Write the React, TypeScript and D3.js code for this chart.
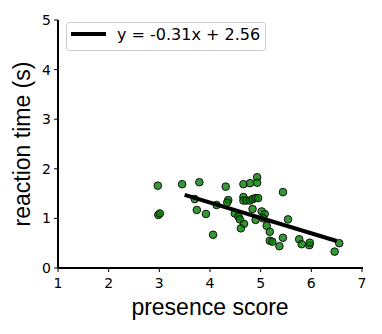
import React from "react";
import * as d3 from "d3";

// presence score / reaction time pairs
const presence = [
  2.97, 3.45, 3.79, 4.31, 4.66, 4.79, 4.93, 4.93, 2.98, 3.01,
  3.70, 3.74, 3.92, 4.06, 4.13, 4.36, 4.34, 4.66, 4.66, 4.72,
  4.79, 4.84, 4.90, 4.95, 4.49, 4.56, 4.59, 4.67, 4.61, 4.84,
  4.90, 5.44, 5.02, 5.08, 5.05, 5.12, 5.18, 5.54, 5.18, 5.23,
  5.37, 5.44, 5.76, 5.81, 5.96, 5.97, 6.55, 6.46,
];
const reaction = [
  1.66, 1.69, 1.73, 1.64, 1.69, 1.71, 1.83, 1.72, 1.07, 1.1,
  1.39, 1.17, 1.09, 0.67, 1.27, 1.37, 1.32, 1.43, 1.36, 1.36,
  1.36, 1.39, 1.41, 1.41, 1.1, 1.04, 0.98, 0.89, 0.8, 1.19,
  0.97, 1.53, 1.14, 1.09, 1.0, 0.85, 0.73, 0.98, 0.55, 0.53,
  0.44, 0.61, 0.58, 0.48, 0.46, 0.51, 0.5, 0.33,
];
const slope = -0.31;
const intercept = 2.56;
const fitRange = [3.5, 6.5];
const xTicks = [1, 2, 3, 4, 5, 6, 7];
const yTicks = [0, 1, 2, 3, 4, 5];
const legendLabel = "y = -0.31x + 2.56";

export default function App() {
  const left = 58, right = 362, top = 20, bottom = 268;
  const x = d3.scaleLinear().domain([1, 7]).range([left, right]);
  const y = d3.scaleLinear().domain([0, 5]).range([bottom, top]);
  const fit = d3.line<number>()
    .x((d) => x(d))
    .y((d) => y(slope * d + intercept));
  const tickFont = "DejaVu Sans, sans-serif";
  const labelFont = "Liberation Sans, Arial, sans-serif";

  return (
    <svg width={382} height={334} style={{ position: "absolute", left: 0, top: 0, background: "white" }}>
      {/* points */}
      {presence.map((p, i) => (
        <circle
          key={i}
          cx={x(p)}
          cy={y(reaction[i])}
          r={3.8}
          fill="green"
          fillOpacity={0.8}
          stroke="#111"
          strokeWidth={1}
        />
      ))}
      <path d={fit(fitRange) || ""} fill="none" stroke="black" strokeWidth={4} />

      {/* spines */}
      <line x1={left} x2={left} y1={top} y2={bottom} stroke="black" strokeWidth={2} />
      <line x1={left} x2={right + 1} y1={bottom} y2={bottom} stroke="black" strokeWidth={2} />

      {yTicks.map((t) => (
        <g key={"y" + t}>
          <line x1={left - 4} x2={left} y1={y(t)} y2={y(t)} stroke="black" strokeWidth={1} />
          <text x={left - 7} y={y(t) + 5} textAnchor="end" fontSize={14} fontFamily={tickFont}>
            {t}
          </text>
        </g>
      ))}
      {xTicks.map((t) => (
        <g key={"x" + t}>
          <line x1={x(t)} x2={x(t)} y1={bottom} y2={bottom + 4} stroke="black" strokeWidth={1} />
          <text x={x(t)} y={bottom + 20} textAnchor="middle" fontSize={14} fontFamily={tickFont}>
            {t}
          </text>
        </g>
      ))}

      <text x={210} y={315} textAnchor="middle" fontSize={23} fontFamily={labelFont}>
        presence score
      </text>
      <text
        transform={`translate(30, 144) rotate(-90)`}
        textAnchor="middle"
        fontSize={23}
        fontFamily={labelFont}
      >
        reaction time (s)
      </text>

      {/* legend */}
      <rect x={66.5} y={22.5} width={199} height={28} rx={3} fill="white" stroke="#ccc" strokeWidth={1} />
      <line x1={71} x2={106} y1={34} y2={34} stroke="black" strokeWidth={4} />
      <text x={117} y={40} fontSize={16} fontFamily={tickFont}>
        {legendLabel}
      </text>
    </svg>
  );
}
